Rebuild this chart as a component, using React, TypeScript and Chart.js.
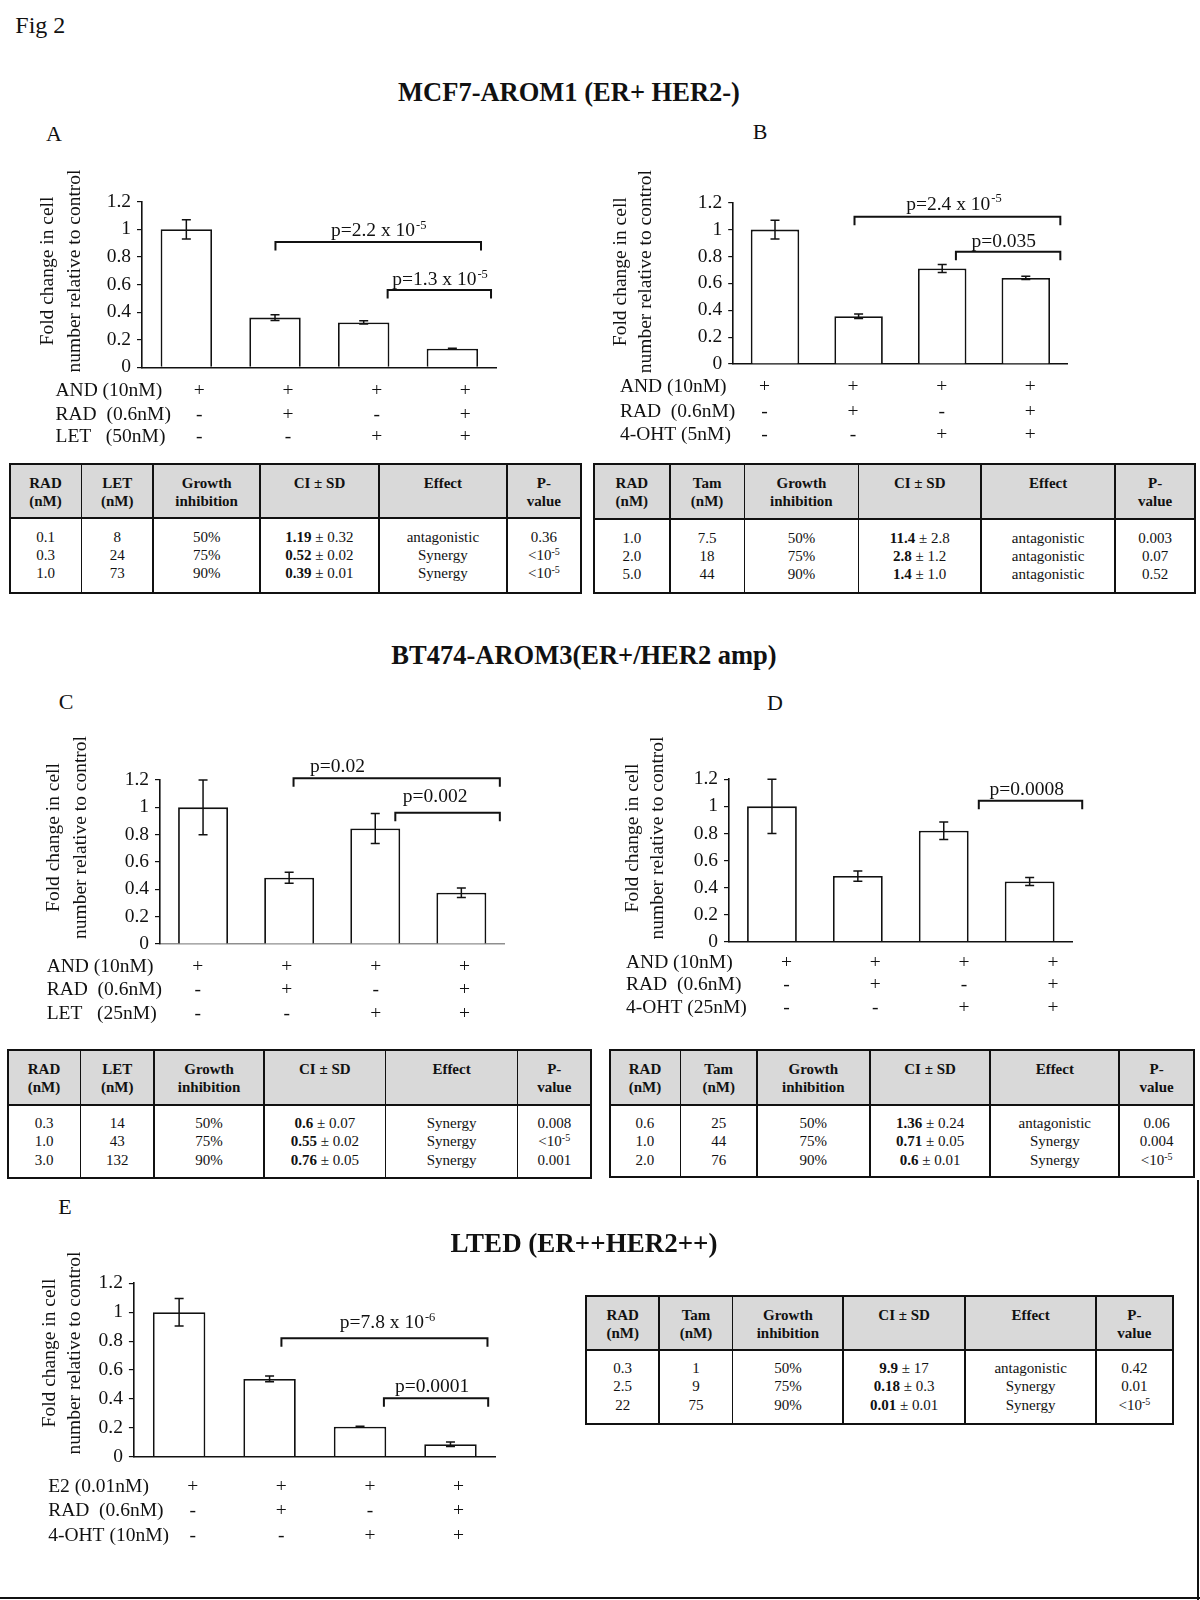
import React, { useEffect, useRef } from 'react';
import { Chart, registerables } from 'chart.js';

Chart.register(...registerables);

const FONT = '"Liberation Serif", "Times New Roman", Times, serif';
const INK = '#111111';

// ---------- chart data ----------
const categories = ['Control', 'RAD', 'Endocrine', 'Combination'];
const yTickLabels = ['0', '0.2', '0.4', '0.6', '0.8', '1', '1.2'];
const yTitleLines = ['Fold change in cell', 'number relative to control'];

const valuesA = [1.0, 0.36, 0.325, 0.135];
const errorsA = [0.07, 0.02, 0.012, 0.003];
const valuesB = [1.0, 0.355, 0.71, 0.64];
const errorsB = [0.07, 0.017, 0.03, 0.012];
const valuesC = [1.0, 0.485, 0.845, 0.375];
const errorsC = [0.2, 0.04, 0.11, 0.035];
const valuesD = [1.0, 0.485, 0.82, 0.445];
const errorsD = [0.2, 0.038, 0.065, 0.03];
const valuesE = [1.0, 0.538, 0.208, 0.086];
const errorsE = [0.095, 0.02, 0.003, 0.015];

const signsBase = ['+', '+', '+', '+'];
const signsRad = ['-', '+', '-', '+'];
const signsDrug = ['-', '-', '+', '+'];

const rowsA = [
  { label: 'AND (10nM)', signs: signsBase },
  { label: 'RAD  (0.6nM)', signs: signsRad },
  { label: 'LET   (50nM)', signs: signsDrug },
];
const rowsB = [
  { label: 'AND (10nM)', signs: signsBase },
  { label: 'RAD  (0.6nM)', signs: signsRad },
  { label: '4-OHT (5nM)', signs: signsDrug },
];
const rowsC = [
  { label: 'AND (10nM)', signs: signsBase },
  { label: 'RAD  (0.6nM)', signs: signsRad },
  { label: 'LET   (25nM)', signs: signsDrug },
];
const rowsD = [
  { label: 'AND (10nM)', signs: signsBase },
  { label: 'RAD  (0.6nM)', signs: signsRad },
  { label: '4-OHT (25nM)', signs: signsDrug },
];
const rowsE = [
  { label: 'E2 (0.01nM)', signs: signsBase },
  { label: 'RAD  (0.6nM)', signs: signsRad },
  { label: '4-OHT (10nM)', signs: signsDrug },
];

// significance brackets: ends / label position in category units, heights in value units
const bracketsA = [
  { x0: 1.005, x1: 3.323, y: 0.908, tx: 2.17, ty: 0.951, text: 'p=2.2 x 10', sup: '-5' },
  { x0: 2.27, x1: 3.436, y: 0.56, tx: 2.861, ty: 0.596, text: 'p=1.3 x 10', sup: '-5' },
];
const bracketsB = [
  { x0: 0.951, x1: 3.413, y: 1.096, tx: 2.141, ty: 1.146, text: 'p=2.4 x 10', sup: '-5' },
  { x0: 2.164, x1: 3.413, y: 0.835, tx: 2.736, ty: 0.873, text: 'p=0.035' },
];
const bracketsC = [
  { x0: 1.051, x1: 3.447, y: 1.212, tx: 1.562, ty: 1.261, text: 'p=0.02' },
  { x0: 2.233, x1: 3.447, y: 0.961, tx: 2.695, ty: 1.041, text: 'p=0.002' },
];
const bracketsD = [
  { x0: 2.408, x1: 3.612, y: 1.042, tx: 2.966, ty: 1.084, text: 'p=0.0008' },
];
const bracketsE = [
  { x0: 1.131, x1: 3.409, y: 0.82, tx: 2.304, ty: 0.889, text: 'p=7.8 x 10', sup: '-6' },
  { x0: 2.264, x1: 3.417, y: 0.404, tx: 2.797, ty: 0.45, text: 'p=0.0001' },
];

// ---------- table data ----------
const tableA = {
  headers: [['RAD', '(nM)'], ['LET', '(nM)'], ['Growth', 'inhibition'], ['CI ± SD'], ['Effect'], ['P-', 'value']],
  rad: ['0.1', '0.3', '1.0'], drug: ['8', '24', '73'], inhibition: ['50%', '75%', '90%'],
  ci: ['1.19', '0.52', '0.39'], sd: ['0.32', '0.02', '0.01'],
  effect: ['antagonistic', 'Synergy', 'Synergy'], p: ['0.36', '<10^-5', '<10^-5'],
};
const tableB = {
  headers: [['RAD', '(nM)'], ['Tam', '(nM)'], ['Growth', 'inhibition'], ['CI ± SD'], ['Effect'], ['P-', 'value']],
  rad: ['1.0', '2.0', '5.0'], drug: ['7.5', '18', '44'], inhibition: ['50%', '75%', '90%'],
  ci: ['11.4', '2.8', '1.4'], sd: ['2.8', '1.2', '1.0'],
  effect: ['antagonistic', 'antagonistic', 'antagonistic'], p: ['0.003', '0.07', '0.52'],
};
const tableC = {
  headers: [['RAD', '(nM)'], ['LET', '(nM)'], ['Growth', 'inhibition'], ['CI ± SD'], ['Effect'], ['P-', 'value']],
  rad: ['0.3', '1.0', '3.0'], drug: ['14', '43', '132'], inhibition: ['50%', '75%', '90%'],
  ci: ['0.6', '0.55', '0.76'], sd: ['0.07', '0.02', '0.05'],
  effect: ['Synergy', 'Synergy', 'Synergy'], p: ['0.008', '<10^-5', '0.001'],
};
const tableD = {
  headers: [['RAD', '(nM)'], ['Tam', '(nM)'], ['Growth', 'inhibition'], ['CI ± SD'], ['Effect'], ['P-', 'value']],
  rad: ['0.6', '1.0', '2.0'], drug: ['25', '44', '76'], inhibition: ['50%', '75%', '90%'],
  ci: ['1.36', '0.71', '0.6'], sd: ['0.24', '0.05', '0.01'],
  effect: ['antagonistic', 'Synergy', 'Synergy'], p: ['0.06', '0.004', '<10^-5'],
};
const tableE = {
  headers: [['RAD', '(nM)'], ['Tam', '(nM)'], ['Growth', 'inhibition'], ['CI ± SD'], ['Effect'], ['P-', 'value']],
  rad: ['0.3', '2.5', '22'], drug: ['1', '9', '75'], inhibition: ['50%', '75%', '90%'],
  ci: ['9.9', '0.18', '0.01'], sd: ['17', '0.3', '0.01'],
  effect: ['antagonistic', 'Synergy', 'Synergy'], p: ['0.42', '0.01', '<10^-5'],
};

// ---------- layout (page px) ----------
type Bracket = { x0: number; x1: number; y: number; tx: number; ty: number; text: string; sup?: string };
type Row = { label: string; signs: string[] };
type PanelDef = {
  values: number[]; errors: number[]; rows: Row[]; brackets: Bracket[];
  canvas: { left: number; top: number; width: number; height: number };
  area: { left: number; right: number; top: number; bottom: number };
  titleX: [number, number]; titleY: number;
  rowX: number; rowY: number[]; symOffset: number; symSpread: number;
  xAxisColor: string;
};

const panels: PanelDef[] = [
  {
    values: valuesA, errors: errorsA, rows: rowsA, brackets: bracketsA,
    canvas: { left: 20, top: 150, width: 570, height: 305 },
    area: { left: 142, right: 496.7, top: 201.7, bottom: 367.3 },
    titleX: [47.8, 74.6], titleY: 271, rowX: 55.5, rowY: [390.7, 415, 436.7],
    symOffset: 13, symSpread: 0, xAxisColor: INK,
  },
  {
    values: valuesB, errors: errorsB, rows: rowsB, brackets: bracketsB,
    canvas: { left: 598, top: 150, width: 598, height: 305 },
    area: { left: 733.2, right: 1067.6, top: 202.7, bottom: 364 },
    titleX: [621, 646], titleY: 271.7, rowX: 619.9, rowY: [387.3, 411.7, 435],
    symOffset: -3, symSpread: 5, xAxisColor: INK,
  },
  {
    values: valuesC, errors: errorsC, rows: rowsC, brackets: bracketsC,
    canvas: { left: 20, top: 715, width: 570, height: 315 },
    area: { left: 160, right: 504.4, top: 780, bottom: 944 },
    titleX: [53.6, 80.4], titleY: 837.5, rowX: 46.7, rowY: [966.7, 990, 1014],
    symOffset: -1, symSpread: 2.8, xAxisColor: '#8f8f8f',
  },
  {
    values: valuesD, errors: errorsD, rows: rowsD, brackets: bracketsD,
    canvas: { left: 598, top: 715, width: 598, height: 315 },
    area: { left: 729, right: 1072.6, top: 779.3, bottom: 941.7 },
    titleX: [632.5, 657.4], titleY: 838, rowX: 626, rowY: [963.3, 985, 1008.3],
    symOffset: 18.9, symSpread: 2.9, xAxisColor: INK,
  },
  {
    values: valuesE, errors: errorsE, rows: rowsE, brackets: bracketsE,
    canvas: { left: 20, top: 1245, width: 530, height: 310 },
    area: { left: 133.9, right: 495.7, top: 1283.3, bottom: 1456.7 },
    titleX: [50, 75], titleY: 1353, rowX: 48.2, rowY: [1486.7, 1511, 1536],
    symOffset: 10.8, symSpread: -1.8, xAxisColor: INK,
  },
];

const CHART_FONT = 19.5;

function makePlugin(p: PanelDef) {
  return {
    id: 'panelExtras',
    afterDatasetsDraw(chart: any) {
      const ctx: CanvasRenderingContext2D = chart.ctx;
      const xs = chart.scales.x;
      const ys = chart.scales.y;
      const ox = p.canvas.left;
      const oy = p.canvas.top;
      ctx.save();
      ctx.strokeStyle = INK;
      ctx.fillStyle = INK;

      // error bars
      ctx.lineWidth = 1.5;
      p.values.forEach((v, i) => {
        const e = p.errors[i];
        const x = xs.getPixelForValue(i);
        const yt = ys.getPixelForValue(v + e);
        const yb = ys.getPixelForValue(v - e);
        ctx.beginPath();
        ctx.moveTo(x, yt); ctx.lineTo(x, yb);
        ctx.moveTo(x - 4.5, yt); ctx.lineTo(x + 4.5, yt);
        ctx.moveTo(x - 4.5, yb); ctx.lineTo(x + 4.5, yb);
        ctx.stroke();
      });

      // brackets with p-values
      const mainFont = `${CHART_FONT}px ${FONT}`;
      const supFont = `12.5px ${FONT}`;
      p.brackets.forEach((b) => {
        const x0 = xs.getPixelForValue(b.x0);
        const x1 = xs.getPixelForValue(b.x1);
        const y = ys.getPixelForValue(b.y);
        ctx.lineWidth = 2;
        ctx.beginPath();
        ctx.moveTo(x0, y + 8.5); ctx.lineTo(x0, y); ctx.lineTo(x1, y); ctx.lineTo(x1, y + 8.5);
        ctx.stroke();
        ctx.font = mainFont;
        const w1 = ctx.measureText(b.text).width;
        let w2 = 0;
        if (b.sup) { ctx.font = supFont; w2 = ctx.measureText(b.sup).width + 1; }
        const tx = xs.getPixelForValue(b.tx) - (w1 + w2) / 2;
        const ty = ys.getPixelForValue(b.ty);
        ctx.textAlign = 'left';
        ctx.textBaseline = 'alphabetic';
        ctx.font = mainFont;
        ctx.fillText(b.text, tx, ty);
        if (b.sup) { ctx.font = supFont; ctx.fillText(b.sup, tx + w1 + 1, ty - 7.5); }
      });

      // treatment rows
      ctx.font = mainFont;
      ctx.textBaseline = 'middle';
      p.rows.forEach((r, ri) => {
        const y = p.rowY[ri] - oy;
        ctx.textAlign = 'left';
        ctx.fillText(r.label, p.rowX - ox, y);
        ctx.textAlign = 'center';
        r.signs.forEach((s, i) => {
          const x = xs.getPixelForValue(i) + p.symOffset + (i - 1.5) * p.symSpread;
          ctx.fillText(s, x, y);
        });
      });

      // y-axis title (two lines, rotated)
      yTitleLines.forEach((line, li) => {
        ctx.save();
        ctx.translate(p.titleX[li] - ox, p.titleY - oy);
        ctx.rotate(-Math.PI / 2);
        ctx.textAlign = 'center';
        ctx.textBaseline = 'middle';
        ctx.font = mainFont;
        ctx.fillText(line, 0, 0);
        ctx.restore();
      });
      ctx.restore();
    },
  };
}

function BarPanel({ p }: { p: PanelDef }) {
  const ref = useRef<HTMLCanvasElement>(null);
  useEffect(() => {
    const c = ref.current;
    if (!c) return;
    const yW = 40;
    const chart = new Chart(c, {
      type: 'bar',
      data: {
        labels: categories,
        datasets: [{
          data: p.values,
          backgroundColor: '#ffffff',
          borderColor: INK,
          borderWidth: 1.8,
          barPercentage: 0.58,
          categoryPercentage: 1,
        }],
      },
      options: {
        animation: false,
        responsive: false,
        maintainAspectRatio: false,
        devicePixelRatio: 1,
        layout: {
          padding: {
            left: p.area.left - p.canvas.left - yW,
            right: p.canvas.left + p.canvas.width - p.area.right,
            top: p.area.top - p.canvas.top,
            bottom: p.canvas.top + p.canvas.height - p.area.bottom,
          },
        },
        plugins: { legend: { display: false }, tooltip: { enabled: false } },
        scales: {
          x: {
            grid: { display: false },
            ticks: { display: false },
            border: { display: true, color: p.xAxisColor, width: 1.6 },
            afterFit: (s: any) => { s.height = 0; },
          },
          y: {
            min: 0,
            max: 1.2,
            afterFit: (s: any) => { s.width = yW; },
            border: { display: true, color: INK, width: 1.6 },
            grid: { display: true, drawOnChartArea: false, drawTicks: true, tickLength: 5, color: INK, lineWidth: 1.2 },
            ticks: {
              stepSize: 0.2,
              padding: 6,
              color: INK,
              font: { family: FONT, size: CHART_FONT },
              callback: (_v: any, i: number) => yTickLabels[i],
            },
          },
        },
      } as any,
      plugins: [makePlugin(p)],
    });
    return () => chart.destroy();
  }, []);
  return (
    <canvas
      ref={ref}
      width={p.canvas.width}
      height={p.canvas.height}
      style={{ position: 'absolute', left: p.canvas.left, top: p.canvas.top, width: p.canvas.width, height: p.canvas.height }}
    />
  );
}

type TableData = typeof tableA;
type TableGeom = { edges: number[]; top: number; hb: number; bottom: number };

const tableGeoms: { t: TableData; g: TableGeom }[] = [
  { t: tableA, g: { edges: [9.6, 81.5, 153.1, 260.2, 378.8, 507, 580.9], top: 464, hb: 518.3, bottom: 592.7 } },
  { t: tableB, g: { edges: [593.9, 669.8, 744.4, 858.4, 981, 1115.2, 1195], top: 464, hb: 519.3, bottom: 593.3 } },
  { t: tableC, g: { edges: [7.7, 80.4, 154.2, 264, 385.7, 517.4, 591.2], top: 1050, hb: 1105, bottom: 1178.3 } },
  { t: tableD, g: { edges: [609.6, 680.4, 756.9, 869.8, 990.3, 1119.3, 1194], top: 1050, hb: 1105, bottom: 1177.3 } },
  { t: tableE, g: { edges: [586.1, 659.2, 732.7, 843.2, 965, 1096.3, 1172.6], top: 1296, hb: 1350, bottom: 1424.3 } },
];

function PVal({ s }: { s: string }) {
  if (s.includes('^')) {
    const [a, b] = s.split('^');
    return (
      <span>
        {a}
        <span style={{ fontSize: 10, position: 'relative', top: -5, lineHeight: 0 }}>{b}</span>
      </span>
    );
  }
  return <span>{s}</span>;
}

function DataTable({ t, g }: { t: TableData; g: TableGeom }) {
  const { edges, top, hb, bottom } = g;
  const L = edges[0];
  const W = edges[edges.length - 1] - L;
  const H = bottom - top;
  const cols: React.ReactNode[][] = [
    t.rad.map((s) => s),
    t.drug.map((s) => s),
    t.inhibition.map((s) => s),
    t.ci.map((s, i) => (<span><b>{s}</b> ± {t.sd[i]}</span>)),
    t.effect.map((s) => s),
    t.p.map((s) => <PVal s={s} />),
  ];
  return (
    <div style={{ position: 'absolute', left: L, top, width: W, height: H, fontFamily: FONT, fontSize: 15, color: INK }}>
      <div style={{ position: 'absolute', left: 0, top: 0, width: W, height: hb - top, background: '#d9d9d9' }} />
      {t.headers.map((h, i) => (
        <div key={'h' + i} style={{ position: 'absolute', left: edges[i] - L, width: edges[i + 1] - edges[i], top: 10, textAlign: 'center', lineHeight: '18.3px', fontWeight: 'bold', whiteSpace: 'nowrap' }}>
          {h.map((s, j) => <div key={j}>{s}</div>)}
        </div>
      ))}
      {cols.map((col, i) => (
        <div key={'c' + i} style={{ position: 'absolute', left: edges[i] - L, width: edges[i + 1] - edges[i], top: hb - top + 9.2, textAlign: 'center', lineHeight: '18.3px', whiteSpace: 'nowrap' }}>
          {col.map((s, j) => <div key={j}>{s}</div>)}
        </div>
      ))}
      <div style={{ position: 'absolute', left: 0, top: hb - top - 1, width: W, height: 2, background: INK }} />
      {edges.slice(1, -1).map((x, i) => (
        <div key={'v' + i} style={{ position: 'absolute', left: x - L - 0.8, top: 0, width: 1.6, height: H, background: INK }} />
      ))}
      <div style={{ position: 'absolute', left: -1, top: -1, width: W + 2, height: H + 2, border: '2px solid ' + INK, boxSizing: 'border-box' }} />
    </div>
  );
}

function Txt({ x, y, size, bold, anchor = 'center', children }: { x: number; y: number; size: number; bold?: boolean; anchor?: 'center' | 'left'; children: React.ReactNode }) {
  return (
    <div
      style={{
        position: 'absolute', left: x, top: y,
        transform: anchor === 'center' ? 'translate(-50%, -50%)' : 'translate(0, -50%)',
        fontSize: size, fontWeight: bold ? 'bold' : 'normal', lineHeight: 1, whiteSpace: 'nowrap',
      }}
    >
      {children}
    </div>
  );
}

export default function App() {
  return (
    <div style={{ position: 'absolute', left: 0, top: 0, width: 1200, height: 1600, background: '#ffffff', fontFamily: FONT, color: INK, overflow: 'hidden' }}>
      {panels.map((p, i) => <BarPanel key={i} p={p} />)}
      {tableGeoms.map((tg, i) => <DataTable key={i} t={tg.t} g={tg.g} />)}

      <Txt x={15.3} y={25} size={24} anchor="left">Fig 2</Txt>
      <Txt x={569} y={92} size={26.5} bold>MCF7-AROM1 (ER+ HER2-)</Txt>
      <Txt x={584} y={655} size={26.5} bold>BT474-AROM3(ER+/HER2 amp)</Txt>
      <Txt x={584} y={1243} size={27} bold>LTED (ER++HER2++)</Txt>

      <Txt x={54} y={133.5} size={22}>A</Txt>
      <Txt x={760} y={132} size={22}>B</Txt>
      <Txt x={66} y={701.7} size={22}>C</Txt>
      <Txt x={775} y={703.3} size={22}>D</Txt>
      <Txt x={65} y={1206.7} size={22}>E</Txt>

      <div style={{ position: 'absolute', left: 0, top: 1597, width: 1200, height: 2, background: INK }} />
      <div style={{ position: 'absolute', left: 1197, top: 1180, width: 2, height: 420, background: INK }} />
    </div>
  );
}
